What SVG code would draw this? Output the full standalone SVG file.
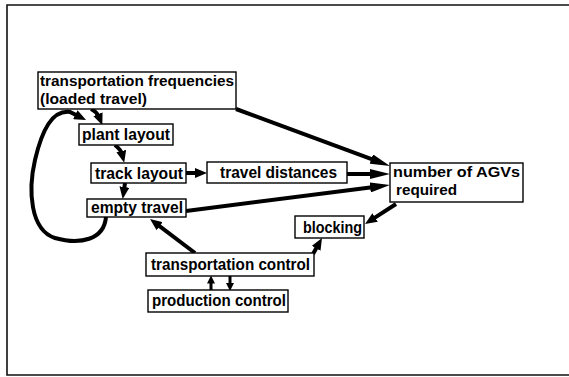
<svg xmlns="http://www.w3.org/2000/svg" width="569" height="377" viewBox="0 0 569 377">
<style>
  .box { fill: #fff; stroke: #000; stroke-width: 1.4; }
  .lbl { font-family: "Liberation Sans", Arial, sans-serif; font-weight: bold; font-size: 16.5px; fill: #000; }
  .lbl2 { font-family: "Liberation Sans", Arial, sans-serif; font-weight: bold; font-size: 15.5px; fill: #000; }
  .c { fill: none; stroke: #000; stroke-width: 4; }
  .cs { fill: none; stroke: #000; stroke-width: 3; }
</style>
<defs>
  <marker id="al" markerUnits="userSpaceOnUse" markerWidth="20" markerHeight="10" refX="4" refY="5" orient="auto">
    <path d="M0,0 L20,5 L0,10 z" fill="#000"/>
  </marker>
  <marker id="ah" markerUnits="userSpaceOnUse" markerWidth="12" markerHeight="10" refX="3" refY="5" orient="auto">
    <path d="M0,0 L12,5 L0,10 z" fill="#000"/>
  </marker>
  <marker id="as" markerUnits="userSpaceOnUse" markerWidth="8" markerHeight="8" refX="2" refY="4" orient="auto">
    <path d="M0,0 L8,4 L0,8 z" fill="#000"/>
  </marker>
</defs>

<path d="M569,5 H7 V375 H569" fill="none" stroke="#111" stroke-width="1.6"/>

<g id="connectors">
  <path class="c" d="M236,109 L375,160.4" marker-end="url(#al)"/>
  <path class="c" d="M347,174 L374,174" stroke-width="5" marker-end="url(#al)"/>
  <path class="c" d="M186,211 L374.1,187" stroke-width="5" marker-end="url(#al)"/>
  <path class="c" d="M186,173 L198,173" marker-end="url(#ah)"/>
  <path class="c" d="M396,204 L372.6,219.1" marker-end="url(#ah)"/>
  <path class="c" d="M313,254 L317.6,245.8" marker-end="url(#ah)"/>
  <path class="c" d="M195,253 L157.2,224.4" marker-end="url(#ah)"/>
  <path class="cs" d="M211,290 L211,281.5" marker-end="url(#as)"/>
  <path class="cs" d="M230,276 L230,285" marker-end="url(#as)"/>
  <path class="c" d="M91,109 Q97,112 99,117" marker-end="url(#ah)"/>
  <path class="c" d="M115,145 Q121,150 122,154" marker-end="url(#ah)"/>
  <path class="c" d="M125,183 L124,190" marker-end="url(#ah)"/>
  <path class="c" d="M106,217 C104,240 80,245 55,238 C30,230 28,190 35,160 C42,130 52,110 70,112 L78,116" marker-end="url(#ah)"/>
</g>

<g id="transportation-frequencies">
  <rect class="box" x="38" y="72" width="198" height="37"/>
  <text class="lbl2"><tspan x="40" y="86" textLength="194" lengthAdjust="spacingAndGlyphs">transportation frequencies</tspan><tspan x="40" y="103.5" textLength="107" lengthAdjust="spacingAndGlyphs">(loaded travel)</tspan></text>
</g>
<g id="plant-layout">
  <rect class="box" x="79" y="124" width="94" height="21"/>
  <text class="lbl" x="82" y="140" textLength="88" lengthAdjust="spacingAndGlyphs">plant layout</text>
</g>
<g id="track-layout">
  <rect class="box" x="91" y="163" width="95" height="20"/>
  <text class="lbl" x="95" y="178.5" textLength="88" lengthAdjust="spacingAndGlyphs">track layout</text>
</g>
<g id="travel-distances">
  <rect class="box" x="207" y="162" width="140" height="21"/>
  <text class="lbl" x="220" y="177.5" textLength="117" lengthAdjust="spacingAndGlyphs">travel distances</text>
</g>
<g id="empty-travel">
  <rect class="box" x="87" y="199" width="99" height="18"/>
  <text class="lbl" x="91" y="213" textLength="92" lengthAdjust="spacingAndGlyphs">empty travel</text>
</g>
<g id="number-of-agvs">
  <rect class="box" x="390" y="163" width="133" height="39"/>
  <text class="lbl2"><tspan x="393" y="177" textLength="127" lengthAdjust="spacingAndGlyphs">number of AGVs</tspan><tspan x="396" y="194.5" textLength="61" lengthAdjust="spacingAndGlyphs">required</tspan></text>
</g>
<g id="blocking">
  <rect class="box" x="295" y="216" width="69" height="22"/>
  <text class="lbl" x="303" y="232.5" textLength="59" lengthAdjust="spacingAndGlyphs">blocking</text>
</g>
<g id="transportation-control">
  <rect class="box" x="146" y="253" width="168" height="23"/>
  <text class="lbl" x="151" y="269.5" textLength="159" lengthAdjust="spacingAndGlyphs">transportation control</text>
</g>
<g id="production-control">
  <rect class="box" x="148" y="290" width="140" height="22"/>
  <text class="lbl" x="152" y="306" textLength="134" lengthAdjust="spacingAndGlyphs">production control</text>
</g>
</svg>
